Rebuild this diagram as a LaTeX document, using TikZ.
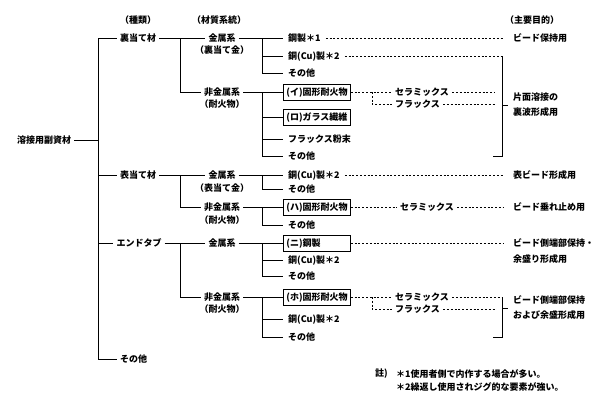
\documentclass[tikz,border=0pt]{standalone}
\usepackage{fontspec}
\setmainfont{Noto Sans CJK JP}
\begin{document}
\begin{tikzpicture}[x=1pt,y=-1pt,
  every node/.style={font=\bfseries\fontsize{9}{11}\selectfont, inner sep=0pt},
  lbl/.style={inner xsep=3pt, inner ysep=1pt, text height=7.6pt, text depth=1.4pt},
  item/.style={anchor=west, inner xsep=5pt, inner ysep=1pt, text height=7.6pt, text depth=1.4pt},
  stepbox/.style={draw, line width=0.8pt, anchor=west, text width=61pt, align=left, inner xsep=3pt, inner ysep=3.5pt, text height=7.6pt, text depth=1.4pt},
  purp/.style={anchor=west, inner xsep=0pt, align=left},
  ln/.style={line width=0.8pt},
  dl/.style={line width=0.6pt, dash pattern=on 2pt off 1.8pt},
]
\useasboundingbox (0,0) rectangle (602,408);
\fill[white] (0,0) rectangle (602,408);

% column coordinates
\coordinate (s1) at (98,0);
\coordinate (s2) at (180,0);
\coordinate (s3) at (262,0);
\coordinate (jx) at (372,0);
\coordinate (ex) at (495,0);
\coordinate (pe) at (503,0);
\coordinate (dx) at (502,0);

% headers
\node (h1) at (138,20) {（種類）};
\node (h2) at (219,20) {（材質系統）};
\node (h3) at (532,20) {（主要目的）};

% root
\node[lbl] (root) at (44,140) {溶接用副資材};

% level 1
\node[lbl] (k1) at (138,38) {裏当て材};
\node[lbl] (k2) at (138,175) {表当て材};
\node[lbl] (k3) at (139,243) {エンドタブ};
\node[lbl,anchor=west] (k4) at (117,359) {その他};

% level 2
\node[lbl] (m1) at (222,38) {金属系};
\node (m1s) at (222,50) {（裏当て金）};
\node[lbl] (m2) at (222,92) {非金属系};
\node (m2s) at (222,104) {（耐火物）};
\node[lbl] (m3) at (222,175) {金属系};
\node (m3s) at (222,188) {（表当て金）};
\node[lbl] (m4) at (222,207) {非金属系};
\node (m4s) at (222,220) {（耐火物）};
\node[lbl] (m5) at (222,243) {金属系};
\node[lbl] (m6) at (222,297) {非金属系};
\node (m6s) at (222,309) {（耐火物）};

% level 3
\node[item] (a1) at (283,38) {鋼製＊1};
\node[item] (a2) at (283,56) {銅(Cu)製＊2};
\node[item] (a3) at (283,73) {その他};
\node[stepbox] (b1) at (283,92) {(イ)固形耐火物};
\node[stepbox] (b2) at (283,117) {(ロ)ガラス繊維};
\node[item] (b3) at (283,139) {フラックス粉末};
\node[item] (b4) at (283,156) {その他};
\node[item] (c1) at (283,175) {銅(Cu)製＊2};
\node[item] (c2) at (283,189) {その他};
\node[stepbox] (d1) at (283,207) {(ハ)固形耐火物};
\node[item] (d2) at (283,225) {その他};
\node[stepbox] (e1) at (283,243) {(ニ)鋼製};
\node[item] (e2) at (283,260) {銅(Cu)製＊2};
\node[item] (e3) at (283,276) {その他};
\node[stepbox] (f1) at (283,297) {(ホ)固形耐火物};
\node[item] (f2) at (283,319) {銅(Cu)製＊2};
\node[item] (f3) at (283,337) {その他};

% level 4 (materials)
\node[lbl,anchor=west] (g1) at (392,92) {セラミックス};
\node[lbl,anchor=west] (g2) at (392,104) {フラックス};
\node[lbl,anchor=west] (g5) at (397,207) {セラミックス};
\node[lbl,anchor=west] (g3) at (392,297) {セラミックス};
\node[lbl,anchor=west] (g4) at (392,309) {フラックス};

% purposes
\node[purp] (p1) at (513,38) {ビード保持用};
\node[purp,font=\bfseries\fontsize{9}{15}\selectfont] (p2) at (513,105) {片面溶接の\\裏波形成用};
\node[purp] (p3) at (513,175) {表ビード形成用};
\node[purp] (p4) at (513,207) {ビード垂れ止め用};
\node[purp,font=\bfseries\fontsize{9}{16}\selectfont] (p5) at (513,251) {ビード側端部保持・\\余盛り形成用};
\node[purp,font=\bfseries\fontsize{9}{15}\selectfont] (p6) at (513,308) {ビード側端部保持\\および余盛形成用};

% notes
\node[anchor=west] (n0) at (375,374) {註)};
\node[anchor=west,align=left,font=\bfseries\fontsize{9}{13}\selectfont] (n1) at (396,380.5) {＊1使用者側で内作する場合が多い。\\＊2繰返し使用されジグ的な要素が強い。};

% ---- solid tree connectors
\draw[ln] (root.east) -- (root.east -| s1);
\draw[ln] (k1.west -| s1) -- (k4.west -| s1);
\foreach \k in {k1,k2,k3,k4} \draw[ln] (\k.west -| s1) -- (\k.west);

\draw[ln] (k1.east) -- (m1.west);
\draw[ln] (k1.east -| s2) |- (m2.west);
\draw[ln] (k2.east) -- (m3.west);
\draw[ln] (k2.east -| s2) |- (m4.west);
\draw[ln] (k3.east) -- (m5.west);
\draw[ln] (k3.east -| s2) |- (m6.west);

\draw[ln] (m1.east) -- (a1.west);
\draw[ln] (m1.east -| s3) |- (a2.west);
\draw[ln] (m1.east -| s3) |- (a3.west);

\draw[ln] (m2.east) -- (b1.west);
\draw[ln] (m2.east -| s3) |- (b2.west);
\draw[ln] (m2.east -| s3) |- (b3.west);
\draw[ln] (m2.east -| s3) |- (b4.west);

\draw[ln] (m3.east) -- (c1.west);
\draw[ln] (m3.east -| s3) |- (c2.west);

\draw[ln] (m4.east) -- (d1.west);
\draw[ln] (m4.east -| s3) |- (d2.west);

\draw[ln] (m5.east) -- (e1.west);
\draw[ln] (m5.east -| s3) |- (e2.west);
\draw[ln] (m5.east -| s3) |- (e3.west);

\draw[ln] (m6.east) -- (f1.west);
\draw[ln] (m6.east -| s3) |- (f2.west);
\draw[ln] (m6.east -| s3) |- (f3.west);

% ---- dashed leaders
\draw[dl] (a1.east) -- (a1.east -| pe);
\draw[dl] (a2.east) -- (a2.east -| dx);
\draw[ln] (a2.east -| dx) -- (b4.east -| dx) -- ++(-9,0);
\draw[ln] (p2.west -| dx) -- ++(6,0);

\draw[dl] (b1.east) -- (g1.west);
\draw[dl] (b1.east -| jx) |- (g2.west);
\draw[dl] (g1.east) -- (g1.east -| ex);
\draw[dl] (g2.east) -- (g2.east -| ex);

\draw[dl] (c1.east) -- (c1.east -| pe);
\draw[dl] (d1.east) -- (g5.west);
\draw[dl] (g5.east) -- (g5.east -| pe);
\draw[dl] (e1.east) -- (e1.east -| pe);

\draw[dl] (f1.east) -- (g3.west);
\draw[dl] (f1.east -| jx) |- (g4.west);
\draw[dl] (g3.east) -- (g3.east -| dx);
\draw[ln] (g3.east -| dx) -- (f3.east -| dx) -- ++(-9,0);
\draw[dl] (g4.east) -- (g4.east -| ex);
\draw[ln] (p6.west -| dx) -- ++(6,0);
\end{tikzpicture}
\end{document}
